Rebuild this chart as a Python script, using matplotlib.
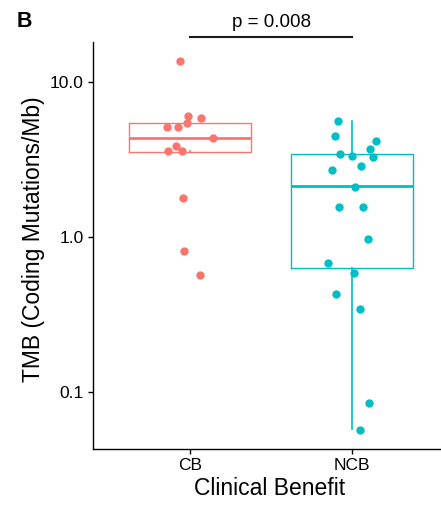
import matplotlib
matplotlib.use("Agg")
import matplotlib.pyplot as plt
from matplotlib.ticker import FixedLocator, FixedFormatter, NullLocator

plt.rcParams["font.family"] = ["Liberation Sans", "DejaVu Sans"]

# groups and colours (ggplot defaults)
groups = ["CB", "NCB"]
colors = ["#F8766D", "#00BFC4"]

# TMB values, with the horizontal jitter of each dot
cb_tmb = [13.7, 6.04, 5.86, 5.10, 5.15, 5.41, 4.35, 3.87, 3.57, 3.57, 1.78, 0.81, 0.566]
cb_jit = [-0.062, -0.014, 0.068, -0.144, -0.074, -0.019, 0.142, -0.086, -0.136,
          -0.049, -0.043, -0.037, 0.062]
ncb_tmb = [5.63, 4.48, 4.16, 3.68, 3.45, 3.35, 3.28, 2.69, 2.86, 2.11, 1.55, 1.55,
           0.966, 0.683, 0.583, 0.427, 0.341, 0.0853, 0.0569]
ncb_jit = [-0.085, -0.105, 0.148, 0.109, -0.074, -0.002, 0.131, -0.125, 0.056, 0.020,
           -0.078, 0.070, 0.101, -0.148, 0.014, -0.101, 0.049, 0.103, 0.049]

# box summaries as drawn
q1 = [3.54, 0.634]
med = [4.33, 2.12]
q3 = [5.40, 3.42]
whislo = [3.57, 0.0574]
whishi = [6.04, 5.60]

p_label = "p = 0.008"
yticks = [0.1, 1.0, 10.0]
ytick_labels = ["0.1", "1.0", "10.0"]

fig = plt.figure(figsize=(4.41, 5.05), dpi=100)
ax = fig.add_axes([93 / 441, 56 / 505, 356 / 441, 407 / 505])

# boxes
for i in range(2):
    st = [{"q1": q1[i], "med": med[i], "q3": q3[i],
           "whislo": whislo[i], "whishi": whishi[i], "fliers": []}]
    ax.bxp(st, positions=[i + 1], widths=0.75, showfliers=False, showcaps=False,
           boxprops=dict(color=colors[i], linewidth=1.0),
           whiskerprops=dict(color=colors[i], linewidth=1.2),
           medianprops=dict(color=colors[i], linewidth=2.0),
           manage_ticks=False)

# jittered points
all_vals = [cb_tmb, ncb_tmb]
all_jit = [cb_jit, ncb_jit]
for i in range(2):
    xs = [i + 1 + j for j in all_jit[i]]
    ax.scatter(xs, all_vals[i], s=36, color=colors[i], linewidths=0, zorder=3)

ax.set_yscale("log")
ax.set_ylim(0.04288, 18.11)
ax.set_xlim(0.4, 2.6)

ax.yaxis.set_major_locator(FixedLocator(yticks))
ax.yaxis.set_major_formatter(FixedFormatter(ytick_labels))
ax.yaxis.set_minor_locator(NullLocator())
ax.set_xticks([1, 2])
ax.set_xticklabels(groups)

for side in ["top", "right"]:
    ax.spines[side].set_visible(False)
for side in ["left", "bottom"]:
    ax.spines[side].set_linewidth(1.0)
ax.tick_params(axis="both", length=3.5, width=1.0, labelsize=12.5, colors="black", pad=3)

ax.set_xlabel("Clinical Benefit", fontsize=16.5)
ax.set_ylabel("TMB (Coding Mutations/Mb)", fontsize=16.5)
ax.yaxis.set_label_coords(-0.135, 0.515)
ax.xaxis.set_label_coords(0.497, -0.068)

# significance bracket
ax.plot([1, 2], [19.6, 19.6], color="#1a1a1a", linewidth=1.5, clip_on=False)
ax.annotate(p_label, xy=(1.5, 19.6), xytext=(0, 7), textcoords="offset points",
            ha="center", va="baseline", fontsize=13.5, annotation_clip=False)

fig.text(17 / 441, 1 - 27 / 505, "B", fontsize=15.5, fontweight="bold",
         va="baseline", ha="left")

fig.savefig("out.png", dpi=100)
